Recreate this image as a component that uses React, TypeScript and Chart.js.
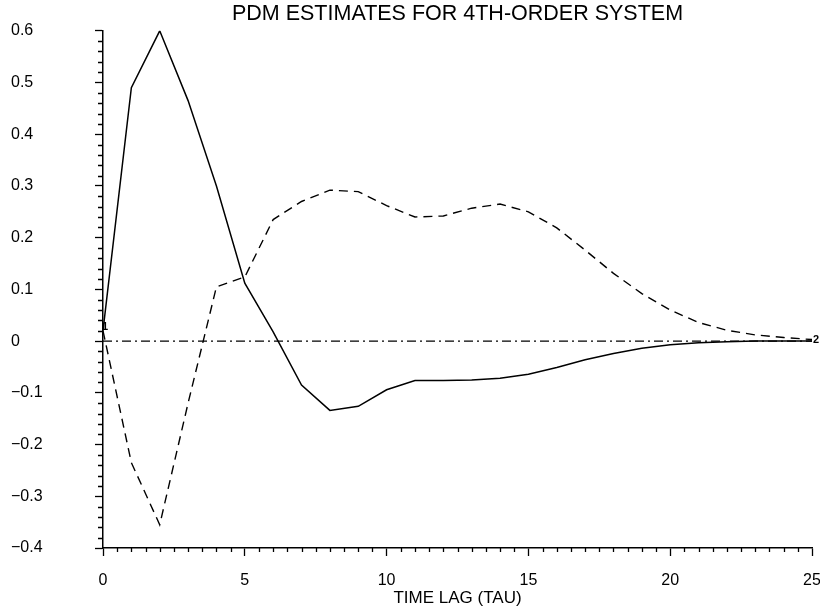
import React, { useEffect, useRef } from "react";
import { Chart, registerables } from "chart.js";

Chart.register(...registerables);

const TITLE = "PDM ESTIMATES FOR 4TH-ORDER SYSTEM";
const X_TITLE = "TIME LAG (TAU)";

const tau = [0, 1, 2, 3, 4, 5, 6, 7, 8, 9, 10, 11, 12, 13, 14, 15, 16, 17, 18, 19, 20, 21, 22, 23, 24, 25];

const pdm1 = [
  0.02, 0.49, 0.6, 0.465, 0.3, 0.112, 0.018, -0.085, -0.134, -0.126, -0.094, -0.076, -0.076,
  -0.075, -0.072, -0.064, -0.051, -0.036, -0.024, -0.014, -0.007, -0.003, -0.001, 0, 0, 0,
];

const pdm2 = [
  0.02, -0.235, -0.355, -0.12, 0.105, 0.124, 0.235, 0.27, 0.292, 0.289, 0.262, 0.24, 0.242,
  0.257, 0.265, 0.25, 0.219, 0.176, 0.131, 0.092, 0.06, 0.036, 0.021, 0.012, 0.007, 0.003,
];

const zeroLine = tau.map(() => 0);

const X_MIN = 0;
const X_MAX = 25;
const X_MAJOR = 5;
const X_MINOR = 0.5;
const Y_MIN = -0.4;
const Y_MAX = 0.6;
const Y_MAJOR = 0.1;
const Y_MINOR = 0.02;

const FONT = '"Liberation Sans", Arial, sans-serif';

const minorTicks = {
  id: "minorTicks",
  afterDraw(chart: any) {
    const { ctx, chartArea, scales } = chart;
    const xs = scales.x;
    const ys = scales.y;
    ctx.save();
    ctx.strokeStyle = "#000";
    ctx.lineWidth = 1.3;
    ctx.beginPath();
    const nx = Math.round((X_MAX - X_MIN) / X_MINOR);
    const perX = Math.round(X_MAJOR / X_MINOR);
    for (let i = 0; i <= nx; i++) {
      if (i % perX === 0) continue;
      const px = Math.round(xs.getPixelForValue(X_MIN + i * X_MINOR)) + 0.5;
      ctx.moveTo(px, chartArea.bottom);
      ctx.lineTo(px, chartArea.bottom + 4);
    }
    const ny = Math.round((Y_MAX - Y_MIN) / Y_MINOR);
    const perY = Math.round(Y_MAJOR / Y_MINOR);
    for (let j = 0; j <= ny; j++) {
      if (j % perY === 0) continue;
      const py = Math.round(ys.getPixelForValue(Y_MIN + j * Y_MINOR)) + 0.5;
      ctx.moveTo(chartArea.left - 5, py);
      ctx.lineTo(chartArea.left, py);
    }
    ctx.stroke();

    // curve labels "1" and "2"
    ctx.fillStyle = "#000";
    ctx.font = `bold 11px ${FONT}`;
    ctx.textBaseline = "middle";
    ctx.textAlign = "left";
    const m1 = chart.getDatasetMeta(1).data[0];
    if (m1) ctx.fillText("1", m1.x - 1, m1.y - 4);
    const d2 = chart.getDatasetMeta(2).data;
    const last = d2[d2.length - 1];
    if (last) ctx.fillText("2", last.x + 1, last.y);
    ctx.restore();
  },
};

export default function App() {
  const ref = useRef<HTMLCanvasElement | null>(null);

  useEffect(() => {
    if (!ref.current) return;
    const chart = new Chart(ref.current, {
      type: "line",
      data: {
        labels: tau,
        datasets: [
          {
            label: "zero",
            data: tau.map((t, i) => ({ x: t, y: zeroLine[i] })),
            borderColor: "#000",
            borderWidth: 1.2,
            borderDash: [9, 4, 2, 4],
            pointRadius: 0,
            tension: 0,
          },
          {
            label: "1",
            data: tau.map((t, i) => ({ x: t, y: pdm1[i] })),
            borderColor: "#000",
            borderWidth: 1.5,
            pointRadius: 0,
            tension: 0,
          },
          {
            label: "2",
            data: tau.map((t, i) => ({ x: t, y: pdm2[i] })),
            borderColor: "#000",
            borderWidth: 1.4,
            borderDash: [9, 6],
            pointRadius: 0,
            tension: 0,
          },
        ],
      },
      options: {
        responsive: false,
        animation: false,
        layout: { padding: { left: 11, right: 8, top: 0, bottom: 0 } },
        plugins: {
          legend: { display: false },
          tooltip: { enabled: false },
          title: {
            display: true,
            text: TITLE,
            color: "#000",
            fullSize: false,
            font: { family: FONT, size: 21.5, weight: "normal" },
            padding: { top: 1, bottom: 4 },
          },
        },
        scales: {
          x: {
            type: "linear",
            min: X_MIN,
            max: X_MAX,
            border: { display: true, color: "#000", width: 1.5 },
            grid: { drawOnChartArea: false, tickLength: 8, color: "#000", tickWidth: 1.3 },
            ticks: {
              stepSize: X_MAJOR,
              color: "#000",
              font: { family: FONT, size: 16 },
              padding: 15,
              maxRotation: 0,
            },
            title: {
              display: true,
              text: X_TITLE,
              color: "#000",
              font: { family: FONT, size: 17 },
              padding: { top: 0, bottom: 4 },
            },
            afterFit: (scale: any) => {
              scale.height = 65;
              scale.paddingLeft = 0;
              scale.paddingRight = 0;
            },
          },
          y: {
            type: "linear",
            min: Y_MIN,
            max: Y_MAX,
            border: { display: true, color: "#000", width: 1.5 },
            grid: { drawOnChartArea: false, tickLength: 8, color: "#000", tickWidth: 1.3 },
            ticks: {
              stepSize: Y_MAJOR,
              color: "#000",
              font: { family: FONT, size: 16 },
              crossAlign: "far",
              callback: (v: any) => {
                const r = Math.round(Number(v) * 10) / 10;
                if (r === 0) return "0";
                return r < 0 ? "\u2212" + Math.abs(r).toFixed(1) : r.toFixed(1);
              },
            },
            afterFit: (scale: any) => {
              scale.width = 92;
            },
          },
        },
      },
      plugins: [minorTicks],
    });
    return () => chart.destroy();
  }, []);

  return (
    <div style={{ position: "absolute", left: 0, top: 0, width: 820, height: 613, background: "#fff" }}>
      <canvas ref={ref} width={820} height={613} style={{ display: "block" }} />
    </div>
  );
}
